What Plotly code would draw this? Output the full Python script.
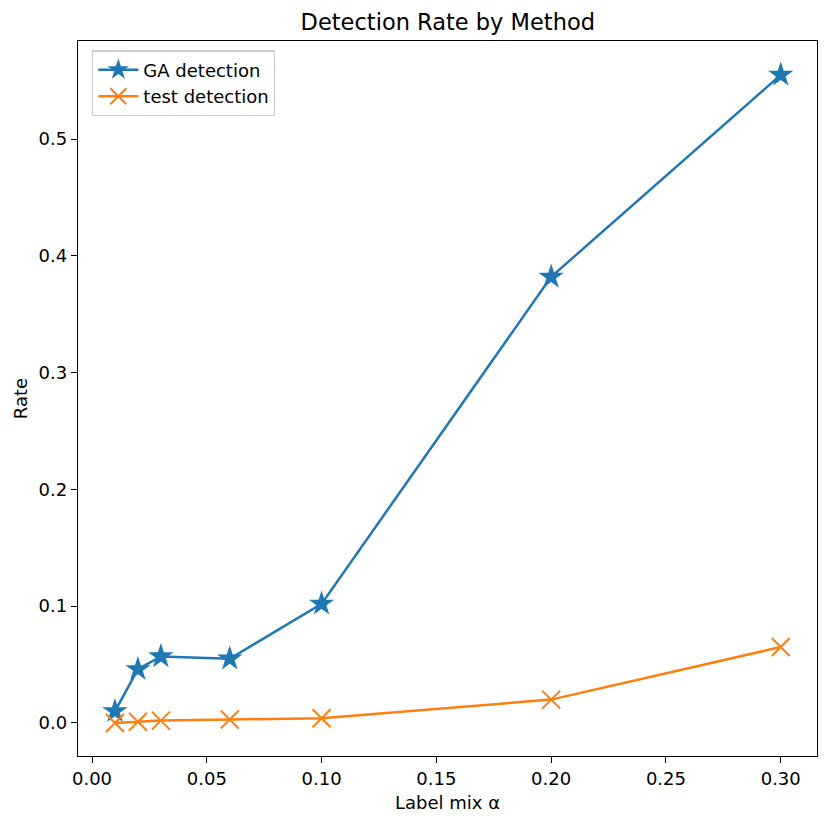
import plotly.graph_objects as go

alpha = [0.01, 0.02, 0.03, 0.06, 0.10, 0.20, 0.30]
ga_detection = [0.010, 0.046, 0.057, 0.055, 0.102, 0.382, 0.555]
test_detection = [0.000, 0.001, 0.002, 0.003, 0.004, 0.020, 0.065]

x_ticks = [0.00, 0.05, 0.10, 0.15, 0.20, 0.25, 0.30]
y_ticks = [0.0, 0.1, 0.2, 0.3, 0.4, 0.5]

FONT = "DejaVu Sans"

fig = go.Figure()
fig.add_trace(go.Scatter(
    x=alpha, y=ga_detection, mode="lines+markers", name="GA detection",
    line=dict(color="#1f77b4", width=2.5),
    marker=dict(symbol="star", size=19, color="#1f77b4", line=dict(width=0)),
))
fig.add_trace(go.Scatter(
    x=alpha, y=test_detection, mode="lines+markers", name="test detection",
    line=dict(color="#ff7f0e", width=2.5),
    marker=dict(symbol="x-thin", size=18, color="#ff7f0e",
                line=dict(width=2, color="#ff7f0e")),
))

axis_common = dict(
    showgrid=False, zeroline=False, showline=True, mirror=True,
    linecolor="black", linewidth=1.3, ticks="outside", ticklen=6,
    tickwidth=1.3, tickcolor="black",
    tickfont=dict(family=FONT, size=18, color="black"),
)

fig.update_layout(
    width=830, height=827,
    margin=dict(l=78, r=13, t=41, b=71),
    paper_bgcolor="white", plot_bgcolor="white",
    font=dict(family=FONT, size=18, color="black"),
    title=dict(text="Detection Rate by Method", x=0.5395, xanchor="center",
               y=1 - 22 / 827, yanchor="middle", yref="container",
               font=dict(family=FONT, size=22.5, color="black")),
    xaxis=dict(range=[-0.0061, 0.3158], tickvals=x_ticks,
               ticktext=[f"{v:.2f}" for v in x_ticks],
               title=dict(text="Label mix α", standoff=8,
                          font=dict(family=FONT, size=18)),
               **axis_common),
    yaxis=dict(range=[-0.0283, 0.584], tickvals=y_ticks,
               ticktext=[f"{v:.1f}" for v in y_ticks],
               title=dict(text="Rate", standoff=6,
                          font=dict(family=FONT, size=18)),
               **axis_common),
    legend=dict(x=0.019, y=0.987, xanchor="left", yanchor="top",
                bgcolor="rgba(255,255,255,0.8)", bordercolor="#cccccc",
                borderwidth=1.3, font=dict(family=FONT, size=18),
                itemwidth=40, tracegroupgap=0),
    showlegend=True,
)

fig.write_html("out.html", config={"displayModeBar": False},
               post_script="document.body.style.margin='0';document.body.style.padding='0';")
